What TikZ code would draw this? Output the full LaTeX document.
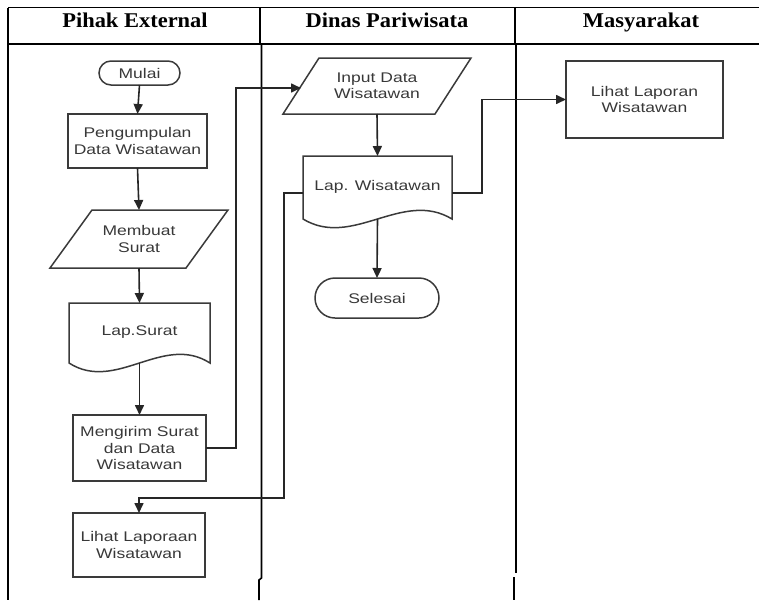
\documentclass[tikz,border=0pt]{standalone}
\usepackage{fontspec}
\usetikzlibrary{arrows.meta,calc}
\newfontfamily\bodyfont[FakeStretch=1.25]{Liberation Sans}
\newfontfamily\headfont[FakeStretch=1.07]{Liberation Serif}
\definecolor{boxc}{HTML}{3A3A3A}
\definecolor{txtc}{HTML}{383838}
\tikzset{
  boxline/.style={draw=boxc, line width=1.5pt},
  basebox/.style={inner sep=0pt, outer sep=0pt, align=center, text=txtc,
    font=\bodyfont\fontsize{14}{16.3}\selectfont},
  procbox/.style={basebox, boxline, rectangle},
  termbox/.style={basebox, boxline, rectangle, rounded corners=#1},
  shapebox/.style={basebox, draw=none, rectangle},
  conn/.style={draw=black!85, line width=1.6pt, -{Triangle[length=10pt,width=9pt]}},
  frameline/.style={draw=black, line width=1.6pt},
  headtext/.style={inner sep=0pt, anchor=base, font=\headfont\bfseries\fontsize{21}{24}\selectfont}
}
\begin{document}
\begin{tikzpicture}[x=1pt, y=-1pt]
\useasboundingbox (0,0) rectangle (759,600);

% frame
\draw[frameline] (8,7.5) -- (759,7.5);
\draw[frameline] (8,44) -- (759,44);
\draw[frameline] (8,7.5) -- (8,600);
\draw[frameline] (260,7.5) -- (260,44);
\draw[frameline] (261.5,44) -- (261.5,578) -- (259,580) -- (259,600);
\draw[frameline] (515,7.5) -- (515,44);
\draw[frameline] (516,44) -- (516,573);
\draw[frameline] (514,577) -- (514,600);

% headers
\node[headtext] (h1) at (135,27.5) {Pihak External};
\node[headtext] (h2) at (387,27.5) {Dinas Pariwisata};
\node[headtext] (h3) at (641,27.5) {Masyarakat};

% column 1
\node[termbox=12pt, minimum width=81pt, minimum height=24pt] (mulai) at (139.5,73) {Mulai};
\node[procbox, minimum width=139pt, minimum height=54pt] (peng) at (137.5,141) {Pengumpulan\\Data Wisatawan};
\node[shapebox, minimum width=178pt, minimum height=58pt] (membuat) at (139,239) {Membuat\\Surat};
\draw[boxline] (membuat.south west) -- ($(membuat.south east)+(-42,0)$) -- (membuat.north east) -- ($(membuat.north west)+(42,0)$) -- cycle;
\node[shapebox, minimum width=141pt, minimum height=60pt] (lapsurat) at (139.5,333) {\raisebox{5pt}{Lap.Surat}};
\draw[boxline] (lapsurat.north west) -- (lapsurat.north east) -- (lapsurat.south east)
  .. controls ($(lapsurat.south west)!0.667!(lapsurat.south east)+(0,-30)$) and ($(lapsurat.south west)!0.333!(lapsurat.south east)+(0,30)$) .. (lapsurat.south west) -- cycle;
\node[procbox, minimum width=133pt, minimum height=66pt] (kirim) at (139.5,448) {Mengirim Surat\\dan Data\\Wisatawan};
\node[procbox, minimum width=132pt, minimum height=64pt] (lihat1) at (139,545) {Lihat Laporaan\\Wisatawan};

% column 2
\node[shapebox, minimum width=188pt, minimum height=56pt] (input) at (377,86) {Input Data\\Wisatawan};
\draw[boxline] (input.south west) -- ($(input.south east)+(-36,0)$) -- (input.north east) -- ($(input.north west)+(36,0)$) -- cycle;
\node[shapebox, minimum width=149pt, minimum height=63pt] (lapwis) at (377.5,187.5) {\raisebox{5pt}{Lap. Wisatawan}};
\draw[boxline] (lapwis.north west) -- (lapwis.north east) -- (lapwis.south east)
  .. controls ($(lapwis.south west)!0.667!(lapwis.south east)+(0,-30)$) and ($(lapwis.south west)!0.333!(lapwis.south east)+(0,30)$) .. (lapwis.south west) -- cycle;
\node[termbox=20pt, minimum width=124pt, minimum height=40pt] (selesai) at (377,298) {Selesai};

% column 3
\node[procbox, minimum width=157pt, minimum height=77pt] (lihat2) at (644.5,99.5) {Lihat Laporan\\Wisatawan};

% helper coordinates
\coordinate (inL) at ($(input.west)+(18,2)$);
\coordinate (lwR) at ($(lapwis.east)+(0,5.5)$);
\coordinate (lwL) at ($(lapwis.west)+(0,5.5)$);
\coordinate (l1top) at ($(lihat1.north)+(0,-15)$);

% connectors
\draw[conn] (mulai.south) -- (peng.north);
\draw[conn] (peng.south) -- (membuat.north);
\draw[conn] (membuat.south) -- (lapsurat.north);
\draw[conn] (lapsurat.south) -- (kirim.north);
\draw[conn] (kirim.east) -- ++(30,0) |- (inL);
\draw[conn] (input.south) -- (lapwis.north);
\draw[conn] (lapwis.south) -- (selesai.north);
\draw[conn] (lwR) -- ++(30,0) |- (lihat2.west);
\draw[conn] (lwL) -- ++(-19,0) |- (l1top) -- (lihat1.north);
\end{tikzpicture}
\end{document}
